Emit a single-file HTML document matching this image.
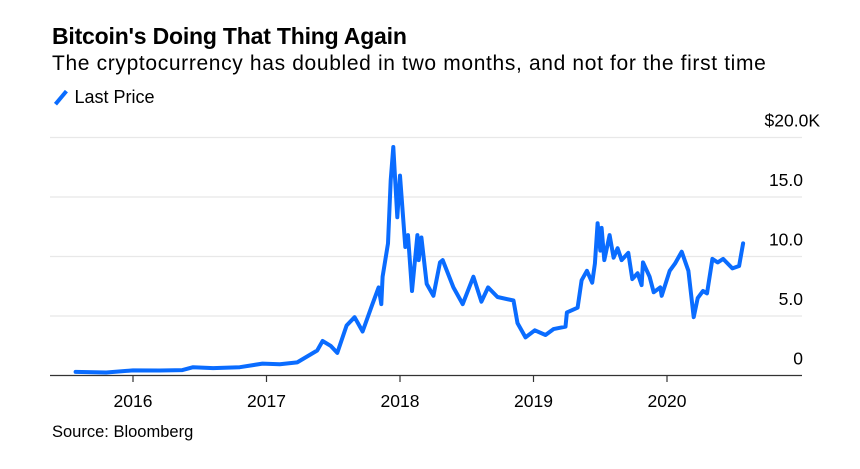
<!DOCTYPE html>
<html><head><meta charset="utf-8">
<style>
body{margin:0;background:#fff;font-family:"Liberation Sans",Arial,sans-serif;}
#wrap{position:relative;width:860px;height:469px;overflow:hidden;}
.t{position:absolute;white-space:nowrap;color:#000;line-height:1;}
</style></head>
<body>
<div id="wrap">
<div class="t" style="left:52px;top:25px;font-size:23px;font-weight:bold;letter-spacing:-0.2px;">Bitcoin's Doing That Thing Again</div>
<div class="t" style="left:52px;top:53px;font-size:21px;letter-spacing:0.65px;">The cryptocurrency has doubled in two months, and not for the first time</div>
<div class="t" style="left:52px;top:88px;font-size:18px;"><span style="display:inline-block;width:3.5px;height:17px;background:#0a6cff;transform:rotate(40deg);margin:0 12px -3px 7px;"></span>Last Price</div>
<div class="t" style="left:52px;top:424px;font-size:16.5px;">Source: Bloomberg</div>
<svg id="chart" width="860" height="469" style="position:absolute;left:0;top:0"></svg>
</div>
<script>
const dates=[2015.57,2015.8,2016.0,2016.2,2016.37,2016.45,2016.6,2016.8,2016.97,2017.1,2017.23,2017.38,2017.42,2017.48,2017.53,2017.6,2017.66,2017.72,2017.79,2017.84,2017.86,2017.87,2017.91,2017.93,2017.95,2017.98,2018.0,2018.04,2018.06,2018.09,2018.13,2018.14,2018.16,2018.2,2018.25,2018.3,2018.32,2018.4,2018.47,2018.55,2018.61,2018.66,2018.73,2018.85,2018.88,2018.94,2019.01,2019.09,2019.15,2019.24,2019.25,2019.33,2019.36,2019.4,2019.44,2019.46,2019.48,2019.5,2019.51,2019.53,2019.57,2019.6,2019.63,2019.66,2019.71,2019.74,2019.78,2019.81,2019.82,2019.87,2019.9,2019.95,2019.96,2020.02,2020.06,2020.11,2020.16,2020.2,2020.23,2020.27,2020.3,2020.34,2020.38,2020.42,2020.49,2020.54,2020.57];
const prices=[0.3,0.25,0.43,0.42,0.45,0.7,0.62,0.7,1.0,0.95,1.1,2.1,2.9,2.5,1.9,4.2,4.9,3.7,5.9,7.4,6.0,8.3,11.1,16.4,19.2,13.3,16.8,10.8,11.8,7.1,11.8,9.7,11.6,7.7,6.7,9.5,9.7,7.4,6.0,8.3,6.2,7.4,6.6,6.3,4.4,3.2,3.8,3.4,3.9,4.1,5.3,5.7,8.0,8.8,7.8,9.4,12.8,10.5,12.4,9.7,11.8,9.9,10.7,9.7,10.3,8.1,8.6,7.6,9.5,8.3,7.0,7.4,6.7,8.8,9.4,10.4,8.8,4.9,6.5,7.1,6.9,9.8,9.5,9.8,9.0,9.2,11.1];
const yTicks=[0,5,10,15,20];
const yLabels=["0","5.0","10.0","15.0","$20.0K"];
const xTicks=[2016,2017,2018,2019,2020];
const NS="http://www.w3.org/2000/svg";
const svg=document.getElementById('chart');
const x=d=>133+(d-2016)*133.5;
const y=v=>375.5-v*11.9;
function mk(tag,attrs){const e=document.createElementNS(NS,tag);for(const k in attrs)e.setAttribute(k,attrs[k]);svg.appendChild(e);return e;}
yTicks.forEach((t,i)=>{
  if(t>0){const g=mk('line',{x1:50,x2:802,y1:y(t),y2:y(t),stroke:'#e8e8e8','stroke-width':1.3});
  
  }
  const tx=mk('text',{x:803,y:y(t)-11,'text-anchor':'end','font-size':17.5,fill:'#000','font-family':'Liberation Sans, sans-serif'});
  tx.textContent=yLabels[i];
  
  
  if(t===20){tx.setAttribute('x',820);}
});
const ax=mk('line',{x1:50,x2:802,y1:375.5,y2:375.5,stroke:'#333','stroke-width':1.2});


xTicks.forEach(t=>{
  const l=mk('line',{x1:x(t),x2:x(t),y1:375,y2:382,stroke:'#333','stroke-width':1.2});
  
  
  const tx=mk('text',{x:x(t),y:407,'text-anchor':'middle','font-size':17.5,fill:'#000','font-family':'Liberation Sans, sans-serif'});
  tx.textContent=t;
  
  
});
const p=mk('path',{d:dates.map((d,i)=>(i?'L':'M')+x(d).toFixed(1)+','+y(prices[i]).toFixed(1)).join(''),fill:'none',stroke:'#0a6cff','stroke-width':4,'stroke-linejoin':'round','stroke-linecap':'round'});


</script>
</body></html>
